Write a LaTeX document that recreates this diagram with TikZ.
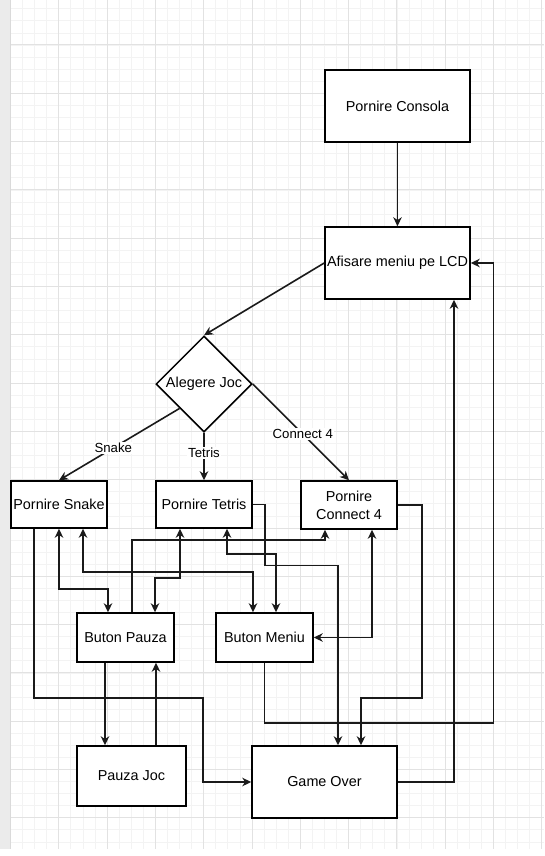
\documentclass[tikz,border=0pt]{standalone}
\usepackage{fontspec}
\setmainfont{Liberation Sans}
\usetikzlibrary{shapes.geometric,arrows.meta,calc}
\definecolor{gridminor}{HTML}{F3F3F3}
\definecolor{gridmajor}{HTML}{E2E2E2}
\definecolor{sidebar}{HTML}{EBEBEB}
\definecolor{sideedge}{HTML}{DADADA}
\definecolor{ink}{HTML}{1A1A1A}
\tikzset{
  box/.style={draw=black, line width=1.5pt, fill=white, rectangle, inner sep=0pt,
    font=\fontsize{14.4}{18}\selectfont, align=center},
  diam/.style={draw=black, line width=1.5pt, fill=white, shape=diamond, aspect=1,
    minimum width=96pt, minimum height=96pt, inner sep=0pt,
    font=\fontsize{14.4}{18}\selectfont},
  tip/.tip={Stealth[length=9pt,width=8.5pt,inset=2.8pt]},
  arr/.style={-tip, line width=1.6pt, draw=ink},
  both/.style={tip-tip, line width=1.6pt, draw=ink},
  elabel/.style={fill=white, inner sep=1pt, font=\fontsize{13.2}{15}\selectfont},
  gminor/.style={draw=gridminor, line width=0.8pt},
  gmajor/.style={draw=gridmajor, line width=1pt}
}
\begin{document}
\begin{tikzpicture}[x=1pt,y=-1pt]
\useasboundingbox (0,0) rectangle (544,856);
% background grid
\begin{scope}
  \clip (10,0) rectangle (544,849);
  \foreach \i in {0,...,44} \draw[gminor] ({10.5+12.075*\i},0) -- ({10.5+12.075*\i},849);
  \foreach \j in {0,...,71} \draw[gminor] (10,{-3.3+12.075*\j}) -- (544,{-3.3+12.075*\j});
  \foreach \i in {0,...,11} \draw[gmajor] ({10.5+48.3*\i},0) -- ({10.5+48.3*\i},849);
  \foreach \j in {0,...,18} \draw[gmajor] (10,{-3.3+48.3*\j}) -- (544,{-3.3+48.3*\j});
\end{scope}
\fill[sidebar] (0,0) rectangle (10,849);
\draw[sideedge, line width=0.8pt] (10,0) -- (10,849);

% nodes
\node[box, minimum width=145pt, minimum height=72pt] (cons) at (397.5,106) {Pornire Consola};
\node[box, minimum width=145pt, minimum height=72pt] (lcd) at (397.5,263) {Afisare meniu pe LCD};
\node[diam] (alg) at (204,384) {Alegere Joc};
\node[box, minimum width=96pt, minimum height=47pt] (snake) at (59,504.5) {Pornire Snake};
\node[box, minimum width=96pt, minimum height=47pt] (tetris) at (204,504.5) {Pornire Tetris};
\node[box, minimum width=96pt, minimum height=48pt] (c4) at (349,505) {Pornire\\Connect 4};
\node[box, minimum width=97pt, minimum height=49pt] (pauza) at (125.5,637.5) {Buton Pauza};
\node[box, minimum width=97pt, minimum height=49pt] (meniu) at (264.5,637.5) {Buton Meniu};
\node[box, minimum width=109pt, minimum height=60pt] (pjoc) at (131.5,776) {Pauza Joc};
\node[box, minimum width=145pt, minimum height=72pt] (go) at (324.5,782) {Game Over};

% connectors
\draw[arr] (cons.south) -- (lcd.north);
\draw[arr] (lcd.west) -- (alg.north);
\draw[arr] ($(alg.west)!0.5!(alg.south)$) -- node[elabel,pos=0.55] (lsnake) {Snake} (snake.north);
\draw[arr] (alg.south) -- node[elabel,pos=0.43] (ltetris) {Tetris} (tetris.north);
\draw[arr] (alg.east) -- node[elabel,pos=0.52] (lc4) {Connect 4} (c4.north);

\draw[arr] ([xshift=24pt]snake.south west) -- ++(0,169) -- ++(169,0) |- (go.west);
\draw[both] (snake.south) -- ++(0,60) -| ([xshift=-17.5pt]pauza.north);
\draw[both] ([xshift=24pt]snake.south) -- ++(0,43) -| ([xshift=-11.5pt]meniu.north);
\draw[both] ([xshift=-24pt]tetris.south) -- ++(0,49) -| ([xshift=29.5pt]pauza.north);
\draw[both] ([xshift=23pt]tetris.south) -- ++(0,25) -| ([xshift=11.5pt]meniu.north);
\draw[arr] ([xshift=6.5pt]pauza.north) -- ++(0,-72) -| ([xshift=-24pt]c4.south);
\draw[both] ([xshift=23pt]c4.south) |- (meniu.east);
\draw[arr] (tetris.east) -- ++(12,0) -- ++(0,61) -| ([xshift=13.5pt]go.north);
\draw[arr] (c4.east) -- ++(24,0) -- ++(0,193) -| ([xshift=36.5pt]go.north);
\draw[arr] (meniu.south) -- ++(0,60) -- ++(229,0) |- (lcd.east);
\draw[arr] (go.east) -| ([xshift=56.5pt]lcd.south);
\draw[arr] ([xshift=-20.5pt]pauza.south) -- ([xshift=-20.5pt]pauza.south |- pjoc.north);
\draw[arr] ([xshift=30.5pt]pauza.south |- pjoc.north) -- ([xshift=30.5pt]pauza.south);
\end{tikzpicture}
\end{document}
